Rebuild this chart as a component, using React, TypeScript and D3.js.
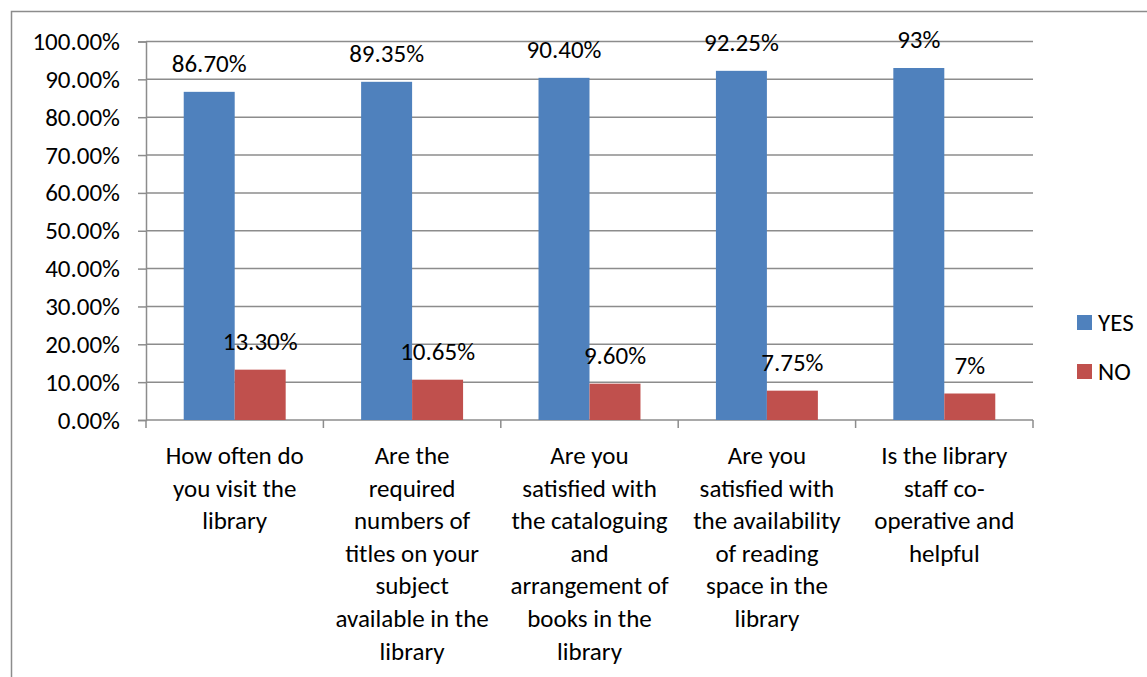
import React, { useEffect, useRef } from "react";
import * as d3 from "d3";

const categories: string[][] = [
  ["How often do", "you visit the", "library"],
  ["Are the", "required", "numbers of", "titles on your", "subject", "available in the", "library"],
  ["Are you", "satisfied with", "the cataloguing", "and", "arrangement of", "books in the", "library"],
  ["Are you", "satisfied with", "the availability", "of reading", "space in the", "library"],
  ["Is the library", "staff co-", "operative and", "helpful"],
];
const yesValues = [86.7, 89.35, 90.4, 92.25, 93];
const noValues = [13.3, 10.65, 9.6, 7.75, 7];
const yesLabels = ["86.70%", "89.35%", "90.40%", "92.25%", "93%"];
const noLabels = ["13.30%", "10.65%", "9.60%", "7.75%", "7%"];
const seriesNames = ["YES", "NO"];
const seriesColors = ["#4F81BD", "#C0504D"];
const yTicks = [0, 10, 20, 30, 40, 50, 60, 70, 80, 90, 100];

const W = 1147;
const H = 677;
const FONT = "Carlito, Calibri, Lato, sans-serif";
const FS = 25;

export default function App() {
  const ref = useRef<SVGSVGElement | null>(null);

  useEffect(() => {
    const svg = d3.select(ref.current);
    svg.selectAll("*").remove();

    const margin = { top: 41.5, left: 146, right: 1033, bottom: 420 };

    const x = d3.scaleBand<number>()
      .domain(d3.range(categories.length))
      .range([margin.left, margin.right])
      .paddingInner(0)
      .paddingOuter(0);

    // two bars side by side, centred in each category
    const inner = d3.scaleBand<number>()
      .domain([0, 1])
      .range([0, x.bandwidth()])
      .paddingOuter(0.74)
      .paddingInner(0);

    const y = d3.scaleLinear().domain([0, 100]).range([margin.bottom, margin.top]);

    // outer frame
    svg.append("rect")
      .attr("x", 11.5).attr("y", 11.5)
      .attr("width", W + 20).attr("height", H + 20)
      .attr("fill", "none").attr("stroke", "#8c8c8c").attr("stroke-width", 1.5);

    // gridlines + y axis
    const yAxis = svg.append("g")
      .attr("transform", `translate(${margin.left},0)`)
      .call(d3.axisLeft(y).tickValues(yTicks).tickSize(8).tickPadding(18)
        .tickFormat(d => `${(+d).toFixed(2)}%`));
    yAxis.select(".domain").attr("stroke", "#8c8c8c").attr("stroke-width", 1.5);
    yAxis.selectAll(".tick line").attr("stroke", "#8c8c8c").attr("stroke-width", 1.5);
    yAxis.selectAll("text")
      .attr("font-family", FONT).attr("font-size", FS).attr("fill", "#000");

    svg.append("g")
      .selectAll("line")
      .data(yTicks.filter(d => d > 0))
      .join("line")
      .attr("x1", margin.left).attr("x2", margin.right)
      .attr("y1", d => y(d)).attr("y2", d => y(d))
      .attr("stroke", "#8c8c8c").attr("stroke-width", 1.5);

    // x axis
    const xAxis = svg.append("g").attr("transform", `translate(0,${margin.bottom})`);
    xAxis.append("line")
      .attr("x1", margin.left).attr("x2", margin.right)
      .attr("stroke", "#8c8c8c").attr("stroke-width", 1.5);
    xAxis.selectAll("line.tk")
      .data(d3.range(categories.length + 1))
      .join("line")
      .attr("class", "tk")
      .attr("x1", i => margin.left + i * x.step())
      .attr("x2", i => margin.left + i * x.step())
      .attr("y1", 0).attr("y2", 8)
      .attr("stroke", "#8c8c8c").attr("stroke-width", 1.5);

    xAxis.selectAll("text.cat")
      .data(categories)
      .join("text")
      .attr("class", "cat")
      .attr("text-anchor", "middle")
      .attr("font-family", FONT).attr("font-size", FS).attr("fill", "#000")
      .each(function (lines, i) {
        d3.select(this).selectAll("tspan")
          .data(lines)
          .join("tspan")
          .attr("x", (x(i) as number) + x.bandwidth() / 2)
          .attr("y", (_, j) => 44 + j * 32.6)
          .text(d => d);
      });

    // bars
    const series = [yesValues, noValues];
    const labels = [yesLabels, noLabels];
    series.forEach((vals, s) => {
      const g = svg.append("g");
      g.selectAll("rect")
        .data(vals)
        .join("rect")
        .attr("x", (_, i) => (x(i) as number) + (inner(s) as number))
        .attr("y", d => y(d))
        .attr("width", inner.bandwidth())
        .attr("height", d => y(0) - y(d))
        .attr("fill", seriesColors[s]);
      g.selectAll("text")
        .data(vals)
        .join("text")
        .attr("x", (_, i) => (x(i) as number) + (inner(s) as number) + inner.bandwidth() / 2)
        .attr("y", d => y(d) - 20)
        .attr("text-anchor", "middle")
        .attr("font-family", FONT).attr("font-size", FS).attr("fill", "#000")
        .text((_, i) => labels[s][i]);
    });

    // legend
    const legend = svg.append("g").attr("transform", "translate(1077,315)");
    seriesNames.forEach((name, s) => {
      legend.append("rect")
        .attr("x", 0).attr("y", s * 49)
        .attr("width", 15).attr("height", 15)
        .attr("fill", seriesColors[s]);
      legend.append("text")
        .attr("x", 21).attr("y", s * 49 + 16)
        .attr("font-family", FONT).attr("font-size", FS).attr("fill", "#000")
        .text(name);
    });
  }, []);

  return (
    <div style={{ position: "fixed", left: 0, top: 0 }}>
      <svg ref={ref} width={W} height={H} style={{ display: "block", background: "#fff" }} />
    </div>
  );
}
